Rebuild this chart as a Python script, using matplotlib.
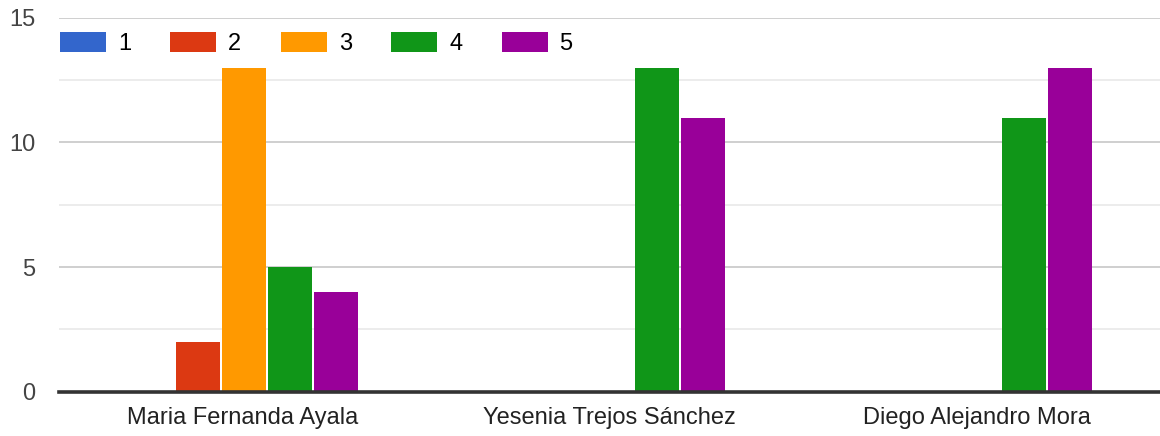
import matplotlib
matplotlib.use("Agg")
import matplotlib.pyplot as plt
import numpy as np
from matplotlib.patches import Patch
from matplotlib.ticker import MultipleLocator

categories = ["Maria Fernanda Ayala", "Yesenia Trejos Sánchez", "Diego Alejandro Mora"]
series_labels = ["1", "2", "3", "4", "5"]
values = [
    [0, 0, 0],    # 1
    [2, 0, 0],    # 2
    [13, 0, 0],   # 3
    [5, 13, 11],  # 4
    [4, 11, 13],  # 5
]
colors = ["#3366cc", "#dc3912", "#ff9900", "#109618", "#990099"]

plt.rcParams["font.family"] = ["Liberation Sans", "DejaVu Sans"]

fig = plt.figure(figsize=(11.6, 4.36), dpi=100)
ax = fig.add_axes([59 / 1160, 1 - 391.5 / 436, 1 - 59 / 1160, (391.5 - 18) / 436])

x = np.arange(len(categories))
step = 0.1255
width = 0.12
for i, (label, vals, color) in enumerate(zip(series_labels, values, colors)):
    ax.bar(x + (i - 2) * step + 0.003, vals, width=width, color=color, label=label, zorder=3)

ax.set_xlim(-0.5, len(categories) - 0.5)
ax.set_ylim(0, 15)
ax.yaxis.set_major_locator(MultipleLocator(5))
ax.yaxis.set_minor_locator(MultipleLocator(2.5))
ax.grid(axis="y", which="major", color="#cccccc", linewidth=1.3, zorder=0)
ax.grid(axis="y", which="minor", color="#ebebeb", linewidth=1.3, zorder=0)
ax.axhline(0, color="#333333", linewidth=2.6, zorder=4, clip_on=False)

for side in ["top", "right", "left", "bottom"]:
    ax.spines[side].set_visible(False)

ax.set_xticks(x)
ax.set_xticklabels(categories)
ax.tick_params(axis="both", which="both", length=0, labelsize=17, colors="#222222")
ax.tick_params(axis="y", pad=17)
ax.tick_params(axis="x", pad=11)
for lbl in ax.get_yticklabels():
    lbl.set_color("#444444")

handles = [Patch(facecolor=c, edgecolor="none") for c in colors]
fig.legend(
    handles, series_labels,
    loc="upper left", bbox_to_anchor=(60 / 1160, 1 - 32 / 436),
    ncol=5, frameon=False, fontsize=17,
    handlelength=1.95, handleheight=0.9, handletextpad=0.5, columnspacing=1.67,
    borderaxespad=0, borderpad=0,
)

fig.savefig("out.png", dpi=100)
